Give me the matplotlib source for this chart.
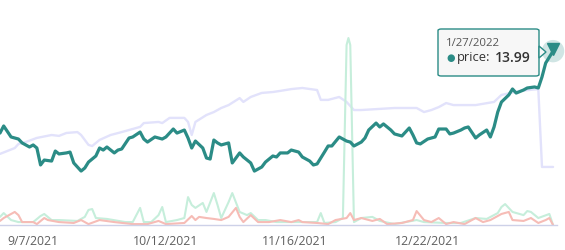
import matplotlib
matplotlib.use("Agg")
import matplotlib.pyplot as plt
from matplotlib.patches import FancyBboxPatch, Polygon

plt.rcParams['font.family'] = ['Open Sans', 'DejaVu Sans']

# day offsets from 8/29/2021 and values
price_day = [0, 1, 3, 5, 6, 8, 9, 10, 11, 12, 14, 15, 16, 18, 19, 20, 22, 23, 24, 26,
             27, 28, 29, 31, 32, 33, 35, 36, 38, 39, 40, 42, 44, 45, 47, 48, 50, 51, 52, 53,
             55, 56, 57, 58, 59, 60, 62, 63, 65, 66, 68, 69, 71, 72, 74, 75, 76, 78, 79, 81,
             82, 84, 85, 86, 88, 89, 90, 92, 94, 95, 96, 98, 99, 100, 102, 103, 104, 106, 107, 109,
             111, 112, 113, 114, 116, 118, 119, 121, 122, 123, 125, 126, 127, 129, 130, 132, 133, 134, 135, 136,
             138, 139, 140, 142, 143, 145, 146, 147, 148, 150]
price = [8.34, 8.83, 8.07, 7.93, 7.66, 7.38, 7.52, 7.31, 6.14, 6.48, 6.41, 7.10, 6.90, 6.97, 7.03, 6.28, 5.72, 5.93, 6.34, 6.76,
         7.31, 7.17, 7.38, 6.97, 7.17, 7.24, 8.00, 8.07, 8.41, 7.93, 7.72, 8.07, 7.93, 8.07, 8.62, 8.34, 8.55, 8.00, 7.31, 7.79,
         7.31, 6.62, 6.55, 7.86, 7.66, 7.52, 7.66, 6.28, 6.97, 6.69, 6.28, 5.72, 6.00, 6.34, 6.76, 6.69, 6.97, 6.97, 7.17, 7.03,
         6.69, 6.41, 6.14, 6.21, 7.03, 7.45, 7.45, 8.07, 7.79, 7.72, 7.45, 7.72, 8.00, 8.55, 9.03, 8.76, 8.97, 8.55, 8.28, 8.14,
         8.69, 8.21, 7.66, 7.59, 7.93, 8.07, 8.62, 8.62, 8.28, 8.34, 8.55, 8.69, 8.76, 8.00, 8.21, 8.55, 8.07, 8.76, 9.79, 10.48,
         10.97, 11.38, 11.10, 11.31, 11.45, 11.52, 11.45, 12.21, 13.17, 13.99]

rank_day = [0, 4, 5, 7, 10, 14, 16, 18, 21, 22, 24, 25, 27, 30, 33, 38, 39, 43, 44, 46,
            50, 51, 52, 53, 56, 58, 60, 62, 65, 66, 68, 71, 74, 76, 79, 82, 86, 87, 89, 92,
            94, 96, 98, 107, 113, 115, 117, 119, 121, 123, 129, 134, 136, 141, 146, 147, 150]
rank = [31.6, 34.2, 36.0, 36.9, 38.7, 40.0, 39.6, 40.9, 41.3, 40.0, 35.6, 35.1, 37.8, 40.0, 41.3, 43.6, 45.3, 45.8, 45.3, 47.6,
        47.6, 45.8, 40.0, 45.8, 48.9, 50.2, 52.0, 53.3, 56.4, 54.7, 56.9, 58.7, 59.1, 59.6, 60.4, 60.9, 60.0, 55.6, 55.6, 56.9,
        54.7, 51.1, 51.1, 52.0, 52.0, 50.2, 51.1, 52.4, 54.2, 53.3, 53.3, 54.7, 57.8, 59.6, 60.4, 25.8, 25.8]

buys_day = [0, 1, 3, 5, 9, 11, 12, 14, 16, 21, 23, 24, 25, 26, 29, 34, 36, 38, 39, 41,
            43, 44, 45, 48, 50, 51, 52, 53, 55, 56, 58, 59, 60, 62, 63, 65, 67, 68, 70, 72,
            75, 79, 86, 87, 88, 91, 93, 94, 94.5, 95, 96, 98, 101, 103, 107, 110, 113, 115, 121, 125, 129,
            132, 135, 136, 137, 139, 142, 143, 144, 146, 149, 150]
buys = [3.6, 5.3, 2.2, 1.3, 1.3, 4.0, 4.9, 2.2, 2.2, 1.8, 3.6, 6.7, 7.1, 3.1, 2.7, 1.3, 1.3, 7.6, 1.3, 1.3,
        4.4, 8.0, 1.3, 2.2, 3.1, 12.4, 8.9, 7.6, 9.8, 5.8, 14.2, 8.9, 3.1, 10.2, 14.2, 5.8, 4.4, 5.3, 2.2, 2.2,
        1.3, 1.3, 1.3, 5.3, 0.9, 1.3, 3.1, 80.0, 83.1, 80.0, 1.3, 3.1, 3.6, 1.8, 0.4, 1.3, 2.2, 1.3, 0.9, 0.9, 3.1,
        2.7, 5.3, 8.0, 9.3, 5.8, 4.4, 6.2, 5.8, 3.1, 4.9, 0.0]

sells_day = [0, 1, 4, 5, 6, 9, 10, 12, 13, 16, 20, 22, 24, 27, 31, 36, 40, 43, 45, 50,
             52, 53, 54, 56, 58, 60, 62, 64, 65, 66, 68, 70, 73, 76, 79, 81, 82, 86, 89, 91,
             94, 95, 96, 98, 101, 103, 105, 109, 112, 113, 115, 117, 119, 121, 123, 126, 129, 131, 133, 136,
             138, 139, 142, 144, 146, 148, 149, 150]
sells = [1.8, 3.1, 5.8, 4.4, 1.3, 1.3, 0.4, 3.1, 2.2, 1.3, 0.9, 2.2, 0.4, 2.2, 1.3, 0.4, 0.4, 1.8, 0.4, 0.9,
         4.0, 2.2, 3.6, 3.1, 2.7, 2.2, 3.6, 7.6, 3.6, 1.3, 4.4, 1.3, 1.3, 2.2, 1.3, 2.2, 1.3, 0.9, 0.4, 2.2,
         3.1, 5.3, 2.2, 3.1, 1.8, 2.7, 0.4, 0.9, 2.2, 6.2, 2.2, 1.3, 3.1, 0.4, 1.3, 0.4, 3.1, 1.3, 2.2, 4.9,
         5.8, 2.2, 1.8, 3.1, 0.9, 2.2, 3.1, 0.0]

tick_day = [9, 45, 80, 116]
tick_labels = ["9/7/2021", "10/12/2021", "11/16/2021", "12/22/2021"]
last_date = "1/27/2022"

teal = "#2b8c86"
W, H = 565, 250

fig = plt.figure(figsize=(W / 100, H / 100), dpi=100)
ax = fig.add_axes([0, 25 / H, 557 / W, 225 / H])
ax.set_xlim(0, 557 / 3.687)
ax.set_ylim(0, 100)

line_kw = dict(solid_joinstyle="round", solid_capstyle="round")
ax.plot(rank_day, rank, color="#e2e2fb", lw=1.7, **line_kw)
ax.plot(buys_day, buys, color="#c6eedb", lw=1.5, **line_kw)
ax.plot(sells_day, sells, color="#f6bcb6", lw=1.5, **line_kw)

for s in ["top", "right", "left"]:
    ax.spines[s].set_visible(False)
ax.spines["bottom"].set_color("#cdd1e8")
ax.spines["bottom"].set_linewidth(1)
ax.set_yticks([])
ax.set_xticks(tick_day)
ax.set_xticklabels(tick_labels)
ax.tick_params(axis="x", length=0, pad=7, labelsize=8.8, labelcolor="#5f5f5f")

ax2 = ax.twinx()
ax2.set_ylim(2, 2 + 225 * 12 / 174)
ax2.axis("off")
ax2.plot(price_day, price, color=teal, lw=2.3, **line_kw)
ax2.scatter([price_day[-1]], [price[-1]], s=260, color=teal, alpha=0.22, edgecolors="none",
            zorder=4, clip_on=False)
ax2.plot([price_day[-1]], [price[-1] + 0.15], marker="v", ms=8.5, color=teal, zorder=5, clip_on=False)

# tooltip
x0, y0, w, h = 438 / W, (H - 76) / H, 101 / W, 47 / H
box = FancyBboxPatch((x0, y0), w, h, boxstyle="round,pad=0,rounding_size=0.006",
                     transform=fig.transFigure, facecolor="#f7f7f7", edgecolor=teal, lw=1.0, zorder=10)
fig.patches.append(box)
tri = Polygon([(539 / W, (H - 46) / H), (546 / W, (H - 52) / H), (539 / W, (H - 58) / H)],
              closed=True, transform=fig.transFigure, facecolor="#f7f7f7", edgecolor=teal, lw=1.0, zorder=11)
fig.patches.append(tri)
fig.text(446 / W, (H - 43) / H, last_date, fontsize=8.2, color="#555555", va="center", zorder=12)
fig.text(451 / W, (H - 58) / H, "\u25cf", fontsize=7, color=teal, va="center", ha="center", zorder=12)
fig.text(457 / W, (H - 58) / H, "price:", fontsize=9.3, color="#333333", va="center", zorder=12)
fig.text(495 / W, (H - 58) / H, f"{price[-1]:.2f}", fontsize=10, color="#333333", va="center",
         fontweight="semibold", zorder=12)

fig.savefig("out.png", dpi=100)
